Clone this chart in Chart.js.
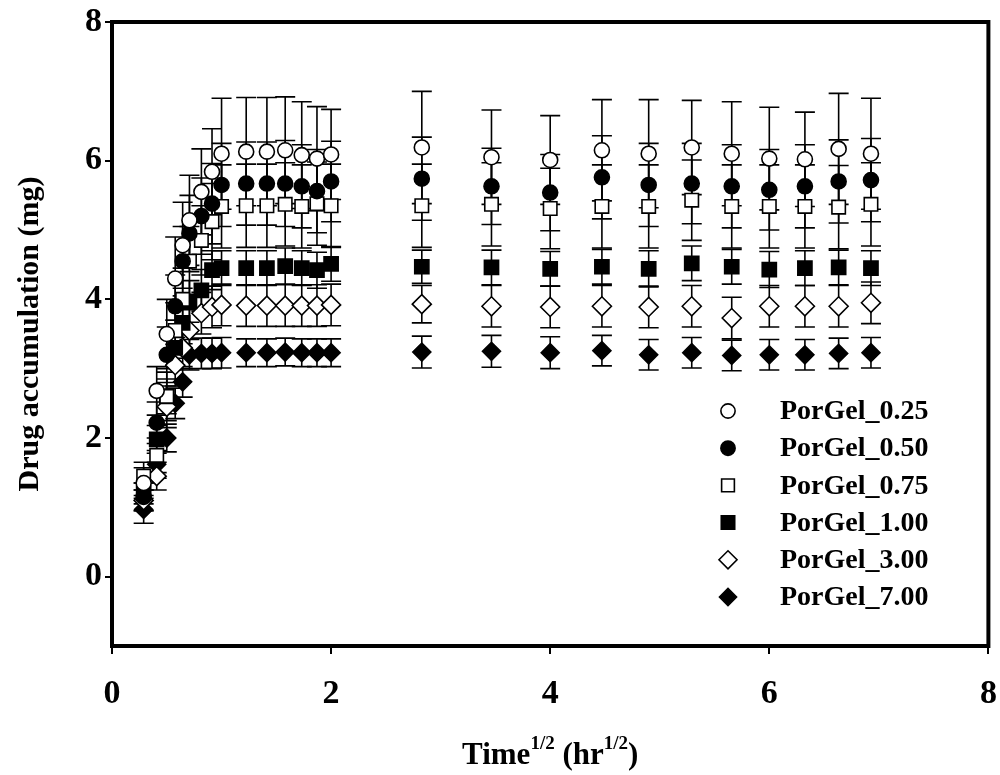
<!DOCTYPE html>
<html lang="en">
<head>
    <meta charset="UTF-8">
    <title>Drug accumulation</title>
    <script src="https://cdn.jsdelivr.net/npm/chart.js"></script>
    <style>
        html, body { margin: 0; padding: 0; background: #fff; }
        .wrap { width: 1000px; height: 775px; }
    </style>
</head>
<body>
    <div class="wrap"><canvas id="chart" width="1000" height="775"></canvas></div>

    <script>
        // square root of time (hr^1/2)
        const timeRoot = [0.289, 0.408, 0.5, 0.577, 0.645, 0.707, 0.816, 0.913, 1.0,
            1.225, 1.414, 1.581, 1.732, 1.871, 2.0,
            2.828, 3.464, 4.0, 4.472, 4.899, 5.292, 5.657, 6.0, 6.325, 6.633, 6.928];

        const seriesNames = ['PorGel_0.25', 'PorGel_0.50', 'PorGel_0.75', 'PorGel_1.00', 'PorGel_3.00', 'PorGel_7.00'];

        const gel025 = [1.35, 2.68, 3.5, 4.3, 4.78, 5.14, 5.55, 5.84, 6.1,
            6.13, 6.13, 6.15, 6.08, 6.03, 6.09,
            6.19, 6.05, 6.01, 6.15, 6.10, 6.19, 6.10, 6.03, 6.02, 6.17, 6.10];
        const gel025Err = [0.22, 0.35, 0.5, 0.6, 0.62, 0.65, 0.62, 0.62, 0.8,
            0.78, 0.78, 0.77, 0.77, 0.75, 0.65,
            0.81, 0.68, 0.64, 0.73, 0.78, 0.68, 0.75, 0.74, 0.68, 0.8, 0.8];

        const gel050 = [1.15, 2.22, 3.2, 3.9, 4.55, 4.95, 5.2, 5.38, 5.65,
            5.67, 5.67, 5.67, 5.63, 5.56, 5.70,
            5.74, 5.63, 5.54, 5.76, 5.65, 5.67, 5.63, 5.58, 5.63, 5.70, 5.72];
        const gel050Err = [0.2, 0.3, 0.4, 0.45, 0.5, 0.55, 0.55, 0.58, 0.6,
            0.6, 0.6, 0.62, 0.6, 0.6, 0.58,
            0.6, 0.55, 0.55, 0.6, 0.6, 0.58, 0.6, 0.58, 0.6, 0.6, 0.6];

        const gel075 = [1.45, 1.75, 2.6, 3.55, 4.0, 4.55, 4.85, 5.12, 5.34,
            5.35, 5.35, 5.37, 5.34, 5.38, 5.35,
            5.35, 5.37, 5.31, 5.34, 5.34, 5.43, 5.34, 5.34, 5.34, 5.33, 5.37];
        const gel075Err = [0.2, 0.25, 0.35, 0.4, 0.45, 0.5, 0.5, 0.55, 0.6,
            0.6, 0.6, 0.6, 0.6, 0.6, 0.6,
            0.6, 0.6, 0.58, 0.6, 0.6, 0.58, 0.6, 0.6, 0.6, 0.6, 0.6];

        const gel100 = [1.2, 1.98, 2.6, 3.3, 3.66, 3.97, 4.13, 4.42, 4.45,
            4.45, 4.45, 4.48, 4.45, 4.42, 4.51,
            4.47, 4.46, 4.44, 4.47, 4.44, 4.52, 4.47, 4.43, 4.45, 4.46, 4.45];
        const gel100Err = [0.15, 0.2, 0.25, 0.25, 0.3, 0.3, 0.3, 0.28, 0.25,
            0.25, 0.25, 0.26, 0.25, 0.26, 0.25,
            0.24, 0.25, 0.25, 0.25, 0.26, 0.25, 0.25, 0.26, 0.25, 0.25, 0.25];

        const gel300 = [1.1, 1.45, 2.45, 3.05, 3.3, 3.55, 3.8, 3.89, 3.92,
            3.91, 3.91, 3.91, 3.91, 3.91, 3.92,
            3.93, 3.90, 3.89, 3.90, 3.89, 3.90, 3.73, 3.90, 3.90, 3.90, 3.95];
        const gel300Err = [0.15, 0.2, 0.3, 0.3, 0.3, 0.3, 0.3, 0.3, 0.3,
            0.3, 0.3, 0.3, 0.3, 0.3, 0.3,
            0.27, 0.3, 0.3, 0.3, 0.3, 0.3, 0.3, 0.3, 0.3, 0.3, 0.3];

        const gel700 = [0.97, 1.62, 2.0, 2.5, 2.81, 3.2, 3.22, 3.22, 3.23,
            3.23, 3.23, 3.24, 3.23, 3.23, 3.23,
            3.24, 3.25, 3.23, 3.26, 3.20, 3.23, 3.19, 3.20, 3.20, 3.22, 3.23];
        const gel700Err = [0.2, 0.2, 0.2, 0.22, 0.22, 0.22, 0.22, 0.22, 0.22,
            0.2, 0.2, 0.2, 0.2, 0.2, 0.2,
            0.23, 0.23, 0.23, 0.22, 0.22, 0.22, 0.22, 0.22, 0.22, 0.22, 0.22];

        const xTicks = [0, 2, 4, 6, 8];
        const yTicks = [0, 2, 4, 6, 8];

        const serif = "'Liberation Serif', 'Times New Roman', serif";

        const means = [gel025, gel050, gel075, gel100, gel300, gel700];
        const errors = [gel025Err, gel050Err, gel075Err, gel100Err, gel300Err, gel700Err];
        const markers = [
            { style: 'circle', filled: false, r: 7.5 },
            { style: 'circle', filled: true, r: 7.5 },
            { style: 'rect', filled: false, r: 9.5 },
            { style: 'rect', filled: true, r: 10 },
            { style: 'rectRot', filled: false, r: 9.5 },
            { style: 'rectRot', filled: true, r: 9 }
        ];

        const datasets = seriesNames.map((name, i) => ({
            label: name,
            data: timeRoot.map((t, j) => ({ x: t, y: means[i][j] })),
            errors: errors[i],
            pointStyle: markers[i].style,
            pointRadius: markers[i].r,
            pointHoverRadius: markers[i].r,
            pointBorderWidth: 1.6,
            pointBorderColor: '#000',
            pointBackgroundColor: markers[i].filled ? '#000' : '#fff',
            showLine: false
        }));

        // vertical error bars with caps, drawn under the markers
        const errorBars = {
            id: 'errorBars',
            beforeDatasetsDraw(chart) {
                const ctx = chart.ctx;
                const yScale = chart.scales.y;
                ctx.save();
                ctx.strokeStyle = '#000';
                ctx.lineWidth = 1.6;
                chart.data.datasets.forEach((ds, i) => {
                    const meta = chart.getDatasetMeta(i);
                    meta.data.forEach((pt, j) => {
                        const v = ds.data[j].y;
                        const e = ds.errors[j];
                        const top = yScale.getPixelForValue(v + e);
                        const bot = yScale.getPixelForValue(v - e);
                        ctx.beginPath();
                        ctx.moveTo(pt.x, top);
                        ctx.lineTo(pt.x, bot);
                        ctx.moveTo(pt.x - 10, top);
                        ctx.lineTo(pt.x + 10, top);
                        ctx.moveTo(pt.x - 10, bot);
                        ctx.lineTo(pt.x + 10, bot);
                        ctx.stroke();
                    });
                });
                ctx.restore();
            }
        };

        function drawMarker(ctx, m, x, y) {
            ctx.beginPath();
            if (m.style === 'circle') {
                ctx.arc(x, y, m.r, 0, Math.PI * 2);
            } else if (m.style === 'rect') {
                const s = m.r * Math.SQRT1_2;
                ctx.rect(x - s, y - s, 2 * s, 2 * s);
            } else {
                ctx.moveTo(x - m.r, y);
                ctx.lineTo(x, y - m.r);
                ctx.lineTo(x + m.r, y);
                ctx.lineTo(x, y + m.r);
                ctx.closePath();
            }
            ctx.fillStyle = m.filled ? '#000' : '#fff';
            ctx.fill();
            ctx.lineWidth = 1.6;
            ctx.strokeStyle = '#000';
            ctx.stroke();
        }

        // legend inside the plot, frame and x title with superscripts
        const decorations = {
            id: 'decorations',
            afterDraw(chart) {
                const ctx = chart.ctx;
                const a = chart.chartArea;
                ctx.save();

                ctx.lineWidth = 4;
                ctx.strokeStyle = '#000';
                ctx.strokeRect(a.left, a.top, a.right - a.left, a.bottom - a.top);

                ctx.font = 'bold 28px ' + serif;
                ctx.textBaseline = 'middle';
                ctx.textAlign = 'left';
                seriesNames.forEach((name, i) => {
                    const y = 411 + i * 37.2;
                    drawMarker(ctx, { ...markers[i], r: markers[i].r * 0.95 }, 728, y);
                    ctx.fillStyle = '#000';
                    ctx.fillText(name, 780, y + 1);
                });

                // Time^1/2 (hr^1/2)
                const big = 'bold 31px ' + serif;
                const small = 'bold 19px ' + serif;
                const parts = [
                    ['Time', big, 0], ['1/2', small, -15], [' (hr', big, 0], ['1/2', small, -15], [')', big, 0]
                ];
                ctx.textBaseline = 'alphabetic';
                let total = 0;
                parts.forEach(p => { ctx.font = p[1]; total += ctx.measureText(p[0]).width; });
                let x = (a.left + a.right) / 2 - total / 2;
                const base = 764;
                parts.forEach(p => {
                    ctx.font = p[1];
                    ctx.fillText(p[0], x, base + p[2]);
                    x += ctx.measureText(p[0]).width;
                });
                ctx.restore();
            }
        };

        new Chart(document.getElementById('chart'), {
            type: 'scatter',
            data: { datasets: datasets },
            options: {
                responsive: false,
                animation: false,
                layout: { padding: { top: 22, right: 10, left: 0, bottom: 0 } },
                plugins: {
                    legend: { display: false },
                    tooltip: { enabled: false }
                },
                scales: {
                    x: {
                        type: 'linear',
                        min: 0,
                        max: 8,
                        afterBuildTicks: (scale) => { scale.ticks = xTicks.map(v => ({ value: v })); },
                        afterFit: (scale) => {
                            scale.height = 129;
                            scale.paddingLeft = 0;
                            scale.paddingRight = 0;
                        },
                        border: { display: false },
                        grid: { drawOnChartArea: false, drawTicks: true, tickLength: 8, color: '#000', lineWidth: 2 },
                        ticks: { color: '#000', padding: 20, font: { family: serif, size: 34, weight: 'bold' } }
                    },
                    y: {
                        min: -1,
                        max: 8,
                        afterBuildTicks: (scale) => { scale.ticks = yTicks.map(v => ({ value: v })); },
                        afterFit: (scale) => {
                            scale.width = 112;
                            scale.paddingTop = 0;
                            scale.paddingBottom = 0;
                        },
                        border: { display: false },
                        grid: { drawOnChartArea: false, drawTicks: true, tickLength: 7, color: '#000', lineWidth: 2 },
                        ticks: { color: '#000', padding: 3, font: { family: serif, size: 34, weight: 'bold' } },
                        title: {
                            display: true,
                            text: 'Drug accumulation (mg)',
                            color: '#000',
                            padding: { top: 12, bottom: 0 },
                            font: { family: serif, size: 30, weight: 'bold' }
                        }
                    }
                }
            },
            plugins: [errorBars, decorations]
        });
    </script>
</body>
</html>
